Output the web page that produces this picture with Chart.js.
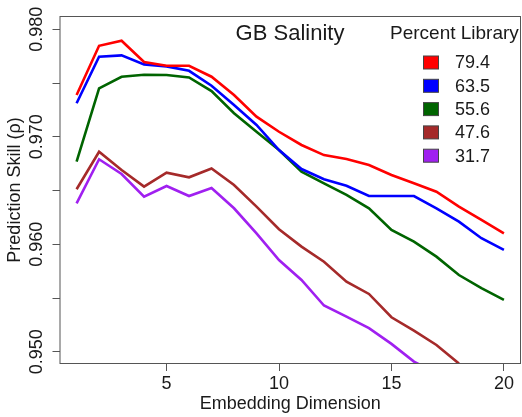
<!DOCTYPE html>
<html>
<head>
<meta charset="utf-8">
<script src="https://cdn.jsdelivr.net/npm/chart.js@4.4.1/dist/chart.umd.min.js"></script>
<style>
html,body{margin:0;padding:0;background:#fff;}
canvas{display:block;}
</style>
</head>
<body>
<canvas id="c" width="522" height="417"></canvas>
<script>
const dims = [1,2,3,4,5,6,7,8,9,10,11,12,13,14,15,16,17,18,19,20];
const libLabels = ['79.4','63.5','55.6','47.6','31.7'];
const lib794 = [0.97389,0.97847,0.97894,0.97696,0.97661,0.97661,0.97559,0.97389,0.97187,0.97047,0.96924,0.96830,0.96793,0.96738,0.96645,0.96567,0.96489,0.96350,0.96226,0.96102];
const lib635 = [0.97312,0.97745,0.97758,0.97674,0.97655,0.97614,0.97475,0.97296,0.97110,0.96877,0.96700,0.96605,0.96545,0.96449,0.96449,0.96449,0.96335,0.96210,0.96056,0.95947];
const lib556 = [0.96768,0.97451,0.97559,0.97578,0.97575,0.97552,0.97425,0.97219,0.97047,0.96877,0.96675,0.96567,0.96459,0.96335,0.96133,0.96024,0.95885,0.95714,0.95591,0.95482];
const lib476 = [0.96512,0.96861,0.96691,0.96536,0.96666,0.96623,0.96705,0.96552,0.96350,0.96140,0.95978,0.95838,0.95652,0.95538,0.95321,0.95196,0.95063,0.94890,null,null];
const lib317 = [0.96381,0.96791,0.96654,0.96443,0.96542,0.96449,0.96524,0.96335,0.96102,0.95854,0.95668,0.95430,0.95327,0.95219,0.95073,0.94908,0.94800,null,null,null];
const xTicks = [5,10,15,20];
const yTicks = [0.950,0.955,0.960,0.965,0.970,0.975,0.980];
const colors = ['#FF0000','#0000FF','#006400','#A52A2A','#A020F0'];
const series = [lib794, lib635, lib556, lib476, lib317];
const chartTitle = 'GB Salinity';
const legendTitle = 'Percent Library';

const FONT = '"Liberation Sans", Arial, Helvetica, sans-serif';
const TXT = '#1a1a1a';
const AXC = '#555555';

const datasets = series.map((s, i) => ({
  label: libLabels[i],
  data: dims.map((d, j) => ({x: d, y: s[j]})),
  borderColor: colors[i],
  backgroundColor: colors[i],
  borderWidth: 2.6,
  pointRadius: 0,
  tension: 0,
  fill: false,
  spanGaps: false,
  clip: 0
}));

const overlay = {
  id: 'overlay',
  afterDraw(chart) {
    const ctx = chart.ctx;
    const a = chart.chartArea;
    ctx.save();
    ctx.strokeStyle = AXC;
    ctx.lineWidth = 1;
    ctx.strokeRect(a.left + 0.5, a.top + 0.5, a.right - a.left - 1, a.bottom - a.top - 1);
    // title
    ctx.fillStyle = TXT;
    ctx.font = '22px ' + FONT;
    ctx.textAlign = 'center';
    ctx.textBaseline = 'middle';
    ctx.fillText(chartTitle, 290, 34);
    // legend
    ctx.font = '19px ' + FONT;
    ctx.textAlign = 'left';
    ctx.fillText(legendTitle, 390, 34);
    ctx.font = '18px ' + FONT;
    chart.data.datasets.forEach((ds, i) => {
      const cy = 62.5 + i * 23.3;
      ctx.fillStyle = ds.borderColor;
      ctx.fillRect(423, cy - 6.5, 15, 13);
      ctx.strokeStyle = '#444';
      ctx.lineWidth = 1;
      ctx.strokeRect(423.5, cy - 6.5, 15, 13);
      ctx.fillStyle = TXT;
      ctx.fillText(ds.label, 455, cy + 1);
    });
    ctx.restore();
  }
};

new Chart(document.getElementById('c'), {
  type: 'line',
  data: { datasets },
  options: {
    responsive: false,
    animation: false,
    events: [],
    layout: { padding: { top: 16, right: 1, left: 0, bottom: 0 } },
    plugins: { legend: { display: false }, tooltip: { enabled: false }, title: { display: false } },
    scales: {
      x: {
        type: 'linear',
        min: 0.24,
        max: 20.76,
        afterBuildTicks: (s) => { s.ticks = xTicks.map(v => ({value: v})); },
        afterFit: (s) => { s.height = 53; },
        border: { display: false },
        grid: { drawOnChartArea: false, drawTicks: true, tickLength: 7, color: AXC, lineWidth: 1 },
        ticks: { color: TXT, font: { family: FONT, size: 18 }, padding: 2, maxRotation: 0, callback: (v) => String(v) },
        title: { display: true, text: 'Embedding Dimension', color: TXT, font: { family: FONT, size: 18 }, padding: { top: 0, bottom: 2 } }
      },
      y: {
        type: 'linear',
        min: 0.94886,
        max: 0.98124,
        afterBuildTicks: (s) => { s.ticks = yTicks.map(v => ({value: v})); },
        afterFit: (s) => { s.width = 59.5; },
        border: { display: false },
        grid: { drawOnChartArea: false, drawTicks: true, tickLength: 7, color: AXC, lineWidth: 1 },
        ticks: {
          color: TXT, font: { family: FONT, size: 18 }, minRotation: 90, maxRotation: 90,
          crossAlign: 'center', padding: -7,
          callback: (v) => (Math.abs(v * 100 - Math.round(v * 100)) < 1e-6 ? v.toFixed(3) : '')
        },
        title: { display: true, text: 'Prediction Skill (ρ)', color: TXT, font: { family: FONT, size: 18 }, padding: { top: 4, bottom: 0 } }
      }
    }
  },
  plugins: [overlay]
});
</script>
</body>
</html>
